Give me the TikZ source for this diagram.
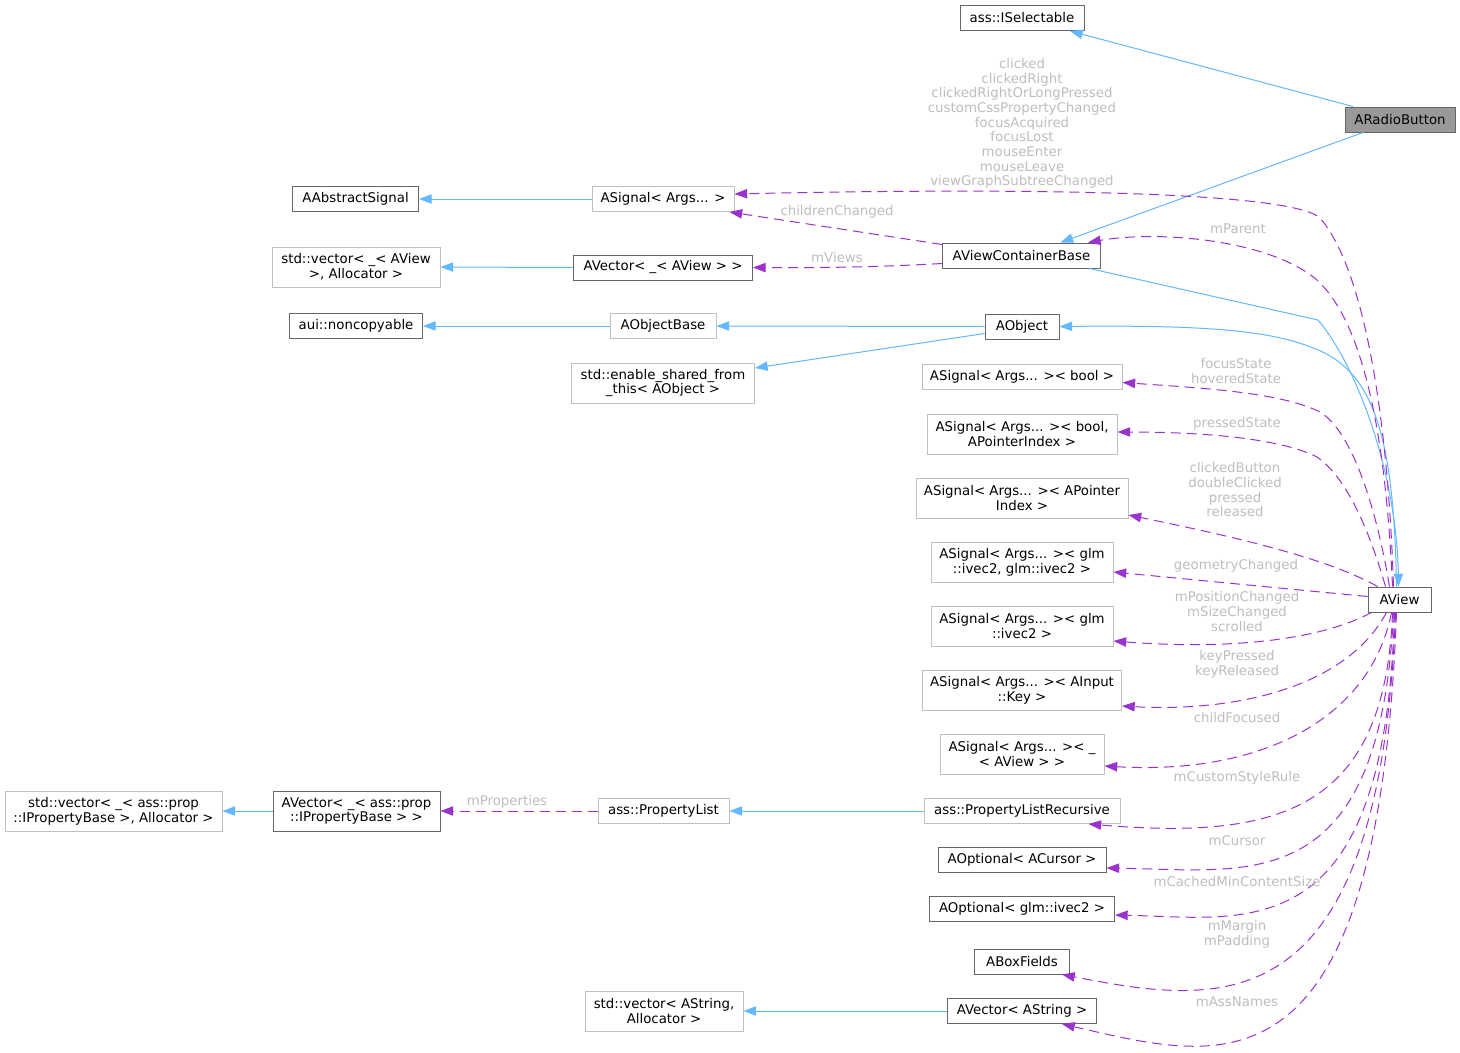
\documentclass[tikz,border=0pt]{standalone}
\usepackage{fontspec}
\setmainfont{DejaVu Sans}
\usetikzlibrary{arrows.meta,calc}
\definecolor{cblue}{HTML}{63B8FF}
\definecolor{cpurple}{HTML}{9A32CD}
\definecolor{clabel}{HTML}{BEBEBE}
\definecolor{cdark}{HTML}{666666}
\definecolor{clight}{HTML}{BFBFBF}
\definecolor{cfill}{HTML}{999999}
\begin{document}
\begin{tikzpicture}[x=0.75pt,y=-0.75pt,
  basebox/.style={draw, inner sep=0pt, align=center, line width=0.75pt,
    font=\fontsize{10pt}{11pt}\selectfont},
  darkbox/.style={basebox, draw=cdark},
  lightbox/.style={basebox, draw=clight},
  sz/.style 2 args={minimum width=#1*0.75pt, minimum height=#2*0.75pt},
  lbl/.style={text=clabel, align=center, inner sep=0pt,
    font=\fontsize{10pt}{11pt}\selectfont},
  inhedge/.style={draw=cblue, line width=0.75pt, -{Triangle[length=9.5pt,width=7pt]}},
  useedge/.style={draw=cpurple, line width=0.75pt, dash pattern=on 7.5pt off 4.5pt,
    -{Triangle[length=9.5pt,width=7pt]}}]
\useasboundingbox[fill=white] (0,0) rectangle (1460,1053);

% nodes
\node[darkbox, sz={124}{25}] (sel) at (1022,18) {ass::ISelectable};
\node[darkbox, sz={110}{25}, fill=cfill] (rb) at (1400,119.5) {ARadioButton};
\node[darkbox, sz={126}{25}] (aas) at (355.5,199) {AAbstractSignal};
\node[lightbox, sz={142}{25}] (sig) at (663,199) {ASignal< Args... >};
\node[darkbox, sz={158}{25}] (vcb) at (1021.5,255.5) {AViewContainerBase};
\node[lightbox, sz={168}{40}] (svec) at (356,267) {std::vector< \_< AView\\>, Allocator >};
\node[darkbox, sz={179}{25}] (avv) at (663,267.5) {AVector< \_< AView > >};
\node[darkbox, sz={133}{25}] (nonc) at (356,326) {aui::noncopyable};
\node[lightbox, sz={106}{25}] (aob) at (663,326) {AObjectBase};
\node[darkbox, sz={74}{25}] (aobj) at (1022,326.5) {AObject};
\node[lightbox, sz={183}{40}] (esft) at (663,383) {std::enable\_shared\_from\\\_this< AObject >};
\node[lightbox, sz={200}{25}] (sb) at (1022,376.5) {ASignal< Args... >< bool >};
\node[lightbox, sz={190}{40}] (sbp) at (1022,434) {ASignal< Args... >< bool,\\APointerIndex >};
\node[lightbox, sz={212}{40}] (sap) at (1022,498) {ASignal< Args... >< APointer\\Index >};
\node[lightbox, sz={182}{40}] (sgg) at (1022,562) {ASignal< Args... >< glm\\::ivec2, glm::ivec2 >};
\node[lightbox, sz={182}{40}] (sg) at (1022,626) {ASignal< Args... >< glm\\::ivec2 >};
\node[lightbox, sz={199}{40}] (sak) at (1022,690) {ASignal< Args... >< AInput\\::Key >};
\node[lightbox, sz={164}{40}] (sav) at (1022,754) {ASignal< Args... >< \_\\< AView > >};
\node[lightbox, sz={196}{25}] (plr) at (1022,811) {ass::PropertyListRecursive};
\node[darkbox, sz={168}{25}] (aoc) at (1022,860) {AOptional< ACursor >};
\node[darkbox, sz={185}{25}] (aog) at (1022,909) {AOptional< glm::ivec2 >};
\node[darkbox, sz={95}{25}] (abf) at (1022,961.5) {ABoxFields};
\node[darkbox, sz={149}{25}] (avs) at (1022,1011) {AVector< AString >};
\node[lightbox, sz={158}{40}] (svs) at (664,1011) {std::vector< AString,\\Allocator >};
\node[lightbox, sz={131}{25}] (pl) at (663.5,811) {ass::PropertyList};
\node[darkbox, sz={167}{40}] (avp) at (356.5,811) {AVector< \_< ass::prop\\::IPropertyBase > >};
\node[lightbox, sz={217}{40}] (svp) at (113.5,811) {std::vector< \_< ass::prop\\::IPropertyBase >, Allocator >};
\node[darkbox, sz={63}{25}] (av) at (1399.5,599.5) {AView};

% inheritance edges
\draw[inhedge] ($(rb.north)+(-47,0)$) -- ($(sel.south)+(48,0)$);
\draw[inhedge] ($(rb.south)+(-37,0)$) -- ($(vcb.north)+(39,0)$);
\draw[inhedge] (sig.west) -- (aas.east);
\draw[inhedge] (avv.west) -- (svec.east);
\draw[inhedge] (aob.west) -- (nonc.east);
\draw[inhedge] (aobj.west) -- (aob.east);
\draw[inhedge] ($(aobj.west)+(0,7)$) -- ($(esft.east)+(0,-15)$);
\draw[inhedge] ($(vcb.south)+(68,0)$) -- (1318,320) .. controls (1360,370) and (1397,480) .. ($(av.north)+(-1,0)$);
\draw[inhedge] ($(av.north)+(-3,0)$) .. controls (1394,440) and (1375,370) .. (1313,348) .. controls (1270,330) and (1200,325) .. (aobj.east);
\draw[inhedge] (plr.west) -- (pl.east);
\draw[inhedge] (avp.west) -- (svp.east);
\draw[inhedge] (avs.west) -- (svs.east);

% usage edges
\draw[useedge] ($(av.north)+(-6,0)$) .. controls (1388,420) and (1365,270) .. (1320,218) .. controls (1290,190) and (1000,188) .. ($(sig.east)+(0,-5)$);
\draw[useedge] ($(vcb.west)+(0,-11)$) -- ($(sig.south east)+(-5,0)$);
\draw[useedge] ($(vcb.west)+(0,8)$) .. controls (880,267) and (820,268) .. (avv.east);
\draw[useedge] ($(av.north)+(-7,0)$) .. controls (1385,420) and (1360,320) .. (1317,280) .. controls (1270,240) and (1160,230) .. ($(vcb.north east)+(-13,0)$);
\draw[useedge] ($(av.north)+(-10,0)$) .. controls (1375,500) and (1350,430) .. (1320,412) .. controls (1280,392) and (1200,388) .. ($(sb.east)+(0,6)$);
\draw[useedge] ($(av.north)+(-14,0)$) .. controls (1372,540) and (1350,480) .. (1317,457) .. controls (1280,438) and (1200,432) .. ($(sbp.east)+(0,-2)$);
\draw[useedge] ($(av.north west)+(10,0)$) .. controls (1330,560) and (1250,540) .. ($(sap.east)+(0,17)$);
\draw[useedge] ($(av.west)+(0,-3)$) -- ($(sgg.east)+(0,10)$);
\draw[useedge] ($(av.south west)+(4,0)$) .. controls (1320,640) and (1230,650) .. ($(sg.east)+(0,15)$);
\draw[useedge] ($(av.south)+(-13,0)$) .. controls (1345,690) and (1230,712) .. ($(sak.east)+(0,16)$);
\draw[useedge] ($(av.south)+(-8,0)$) .. controls (1370,720) and (1260,775) .. ($(sav.east)+(0,12)$);
\draw[useedge] ($(av.south)+(-7,0)$) .. controls (1385,810) and (1280,840) .. ($(plr.south east)+(-32,0)$);
\draw[useedge] ($(av.south)+(-6,0)$) .. controls (1380,900) and (1250,870) .. ($(aoc.east)+(0,8)$);
\draw[useedge] ($(av.south)+(-5,0)$) .. controls (1385,950) and (1250,918) .. ($(aog.east)+(0,6)$);
\draw[useedge] ($(av.south)+(-4,0)$) .. controls (1380,1030) and (1220,1005) .. ($(abf.south east)+(-8,0)$);
\draw[useedge] ($(av.south)+(-3,0)$) .. controls (1378,1110) and (1220,1060) .. ($(avs.south east)+(-35,0)$);
\draw[useedge] (pl.west) -- (avp.east);

% edge labels
\node[lbl] (l1) at (1022,123.5) {clicked\\clickedRight\\clickedRightOrLongPressed\\customCssPropertyChanged\\focusAcquired\\focusLost\\mouseEnter\\mouseLeave\\viewGraphSubtreeChanged};
\node[lbl] (l2) at (837,212) {childrenChanged};
\node[lbl] (l3) at (837,258) {mViews};
\node[lbl] (l4) at (1238,229) {mParent};
\node[lbl] (l5) at (1236,371) {focusState\\hoveredState};
\node[lbl] (l6) at (1237,424) {pressedState};
\node[lbl] (l7) at (1235,490) {clickedButton\\doubleClicked\\pressed\\released};
\node[lbl] (l8) at (1236,566) {geometryChanged};
\node[lbl] (l9) at (1237,611.5) {mPositionChanged\\mSizeChanged\\scrolled};
\node[lbl] (l10) at (1237,664.5) {keyPressed\\keyReleased};
\node[lbl] (l11) at (1237,718) {childFocused};
\node[lbl] (l12) at (1237,778) {mCustomStyleRule};
\node[lbl] (l13) at (1237,840.5) {mCursor};
\node[lbl] (l14) at (1237,881.5) {mCachedMinContentSize};
\node[lbl] (l15) at (1237,934) {mMargin\\mPadding};
\node[lbl] (l16) at (1237,1001.5) {mAssNames};
\node[lbl] (l17) at (507,802) {mProperties};
\end{tikzpicture}
\end{document}
